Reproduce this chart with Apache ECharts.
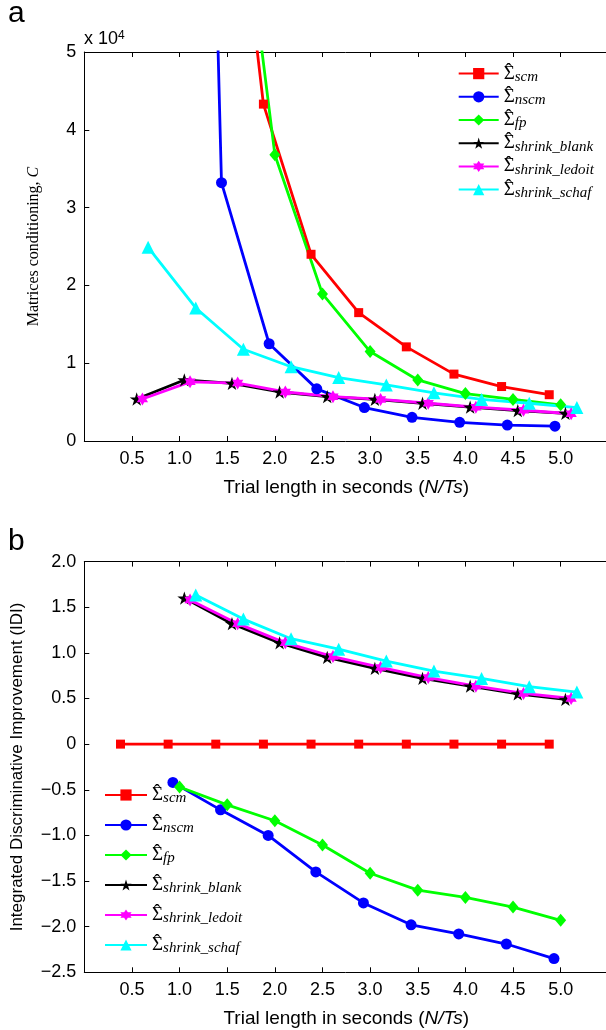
<!DOCTYPE html>
<html><head><meta charset="utf-8">
<script src="https://cdn.jsdelivr.net/npm/echarts@6/dist/echarts.min.js"></script>
<style>html,body{margin:0;padding:0;background:#fff}#c{width:606px;height:1030px}</style>
</head><body><div id="c"></div>
<script>
// ---------- DATA ----------
const seriesKeys = ['scm','nscm','fp','shrink_blank','shrink_ledoit','shrink_schaf'];
const xAxisTitle = 'Trial length in seconds ';
const xAxisTitleItalic = 'N/Ts';
const yTitleA = 'Matrices conditioning, ';
const yTitleB = 'Integrated Discriminative Improvement (IDI)';

// Panel a: matrices conditioning (raw values)
const aScmX    = [1.38,1.88,2.38,2.88,3.38,3.88,4.38,4.88];
const aScmY    = [96000,43300,24000,16500,12100,8600,7000,5950];
const aNscmX   = [0.94,1.44,1.94,2.44,2.94,3.44,3.94,4.44,4.94];
const aNscmY   = [270000,33200,12500,6700,4300,3050,2400,2050,1900];
const aFpX     = [1.5,2.0,2.5,3.0,3.5,4.0,4.5,5.0];
const aFpY     = [86000,36800,18900,11500,7850,6100,5350,4650];
const aBlankX  = [0.55,1.05,1.55,2.05,2.55,3.05,3.55,4.05,4.55,5.05];
const aBlankY  = [5400,7850,7400,6300,5700,5350,4850,4350,3900,3550];
const aLedoitX = [0.61,1.11,1.61,2.11,2.61,3.11,3.61,4.11,4.61,5.11];
const aLedoitY = [5400,7600,7450,6300,5700,5350,4850,4350,3950,3500];
const aSchafX  = [0.67,1.17,1.67,2.17,2.67,3.17,3.67,4.17,4.67,5.17];
const aSchafY  = [24900,17100,11800,9550,8150,7200,6200,5350,4850,4300];

// Panel b: IDI
const bScmX    = [0.38,0.88,1.38,1.88,2.38,2.88,3.38,3.88,4.38,4.88];
const bScmY    = [0,0,0,0,0,0,0,0,0,0];
const bNscmX   = [0.93,1.43,1.93,2.43,2.93,3.43,3.93,4.43,4.93];
const bNscmY   = [-0.42,-0.72,-1.0,-1.40,-1.74,-1.98,-2.08,-2.19,-2.35];
const bFpX     = [1.0,1.5,2.0,2.5,3.0,3.5,4.0,4.5,5.0];
const bFpY     = [-0.47,-0.665,-0.84,-1.105,-1.415,-1.60,-1.68,-1.785,-1.93];
const bBlankX  = [1.05,1.55,2.05,2.55,3.05,3.55,4.05,4.55,5.05];
const bBlankY  = [1.60,1.32,1.11,0.95,0.83,0.72,0.635,0.55,0.49];
const bLedoitX = [1.11,1.61,2.11,2.61,3.11,3.61,4.11,4.61,5.11];
const bLedoitY = [1.58,1.32,1.11,0.96,0.84,0.73,0.635,0.555,0.50];
const bSchafX  = [1.17,1.67,2.17,2.67,3.17,3.67,4.17,4.67,5.17];
const bSchafY  = [1.635,1.37,1.155,1.04,0.91,0.80,0.72,0.63,0.57];

// ---------- STYLE ----------
const STAR5 = 'path://M100,0 L122.45,69.1 L195.11,69.1 L136.3,111.8 L158.78,180.9 L100,138.2 L41.22,180.9 L63.7,111.8 L4.89,69.1 L77.55,69.1 Z';
const STAR6 = 'path://M100,0 L128.87,50 L186.6,50 L157.7,100 L186.6,150 L128.87,150 L100,200 L71.13,150 L13.4,150 L42.3,100 L13.4,50 L71.13,50 Z';
const styles = {
  scm:           {color:'#ff0000', symbol:'rect',     size:9},
  nscm:          {color:'#0000ff', symbol:'circle',   size:11},
  fp:            {color:'#00ff00', symbol:'diamond',  size:[11,13]},
  shrink_blank:  {color:'#000000', symbol:STAR5,      size:14},
  shrink_ledoit: {color:'#ff00ff', symbol:STAR6,      size:13},
  shrink_schaf:  {color:'#00ffff', symbol:'triangle', size:13}
};
const SANS = 'Liberation Sans';
const SERIF = 'Liberation Serif';

function mk(panel, key, xs, ys, gi) {
  const st = styles[key];
  return {
    name: panel + '_' + key, type: 'line', xAxisIndex: gi*2, yAxisIndex: gi,
    data: xs.map((x,i) => [x, ys[i]]),
    symbol: st.symbol, symbolSize: st.size, symbolKeepAspect: true, showSymbol: true,
    lineStyle: {color: st.color, width: 2.8}, itemStyle: {color: st.color, borderWidth: 0},
    clip: true, animation: false, emphasis: {disabled: true}
  };
}

function xAxes(gi) {
  const base = {
    gridIndex: gi, type: 'value', min: 0, max: 5.5, interval: 0.5,
    axisLine: {show: true, onZero: false, lineStyle: {color: '#000', width: 1}},
    axisTick: {show: true, inside: true, length: 5, lineStyle: {color: '#000', width: 1}},
    splitLine: {show: false}
  };
  return [
    Object.assign({}, base, {
      position: 'bottom',
      axisLabel: {show: true, color: '#000', fontSize: 18, fontFamily: SANS, margin: 9,
        showMinLabel: true, showMaxLabel: true,
        formatter: v => (v <= 0.01 || v >= 5.45) ? '' : v.toFixed(1)},
      name: xAxisTitle + '{i|(}{j|' + xAxisTitleItalic + '}{i|)}', nameLocation: 'middle', nameGap: 37,
      nameTextStyle: {color: '#000', fontSize: 19, fontFamily: SANS,
        rich: {i: {fontSize: 19, fontFamily: SANS, color: '#000'},
               j: {fontSize: 19, fontFamily: SANS, fontStyle: 'italic', color: '#000'}}}
    }),
    Object.assign({}, base, {position: 'top', axisLabel: {show: false}})
  ];
}

// legend label: zero-width hat drawn over Sigma, then italic subscript
const subRich = {
  h:   {fontFamily: SERIF, fontSize: 20, lineHeight: 12, verticalAlign: 'top', width: 0, color: '#000'},
  s:   {fontFamily: SERIF, fontSize: 19, lineHeight: 22, color: '#000'},
  sub: {fontFamily: SERIF, fontStyle: 'italic', fontSize: 15, lineHeight: 12, verticalAlign: 'bottom', color: '#000'}
};
const legendFmt = name => '{h|\u200A\u02C6}{s|\u03A3}{sub|' + name.slice(2) + '}';

const option = {
  animation: false,
  backgroundColor: '#fff',
  grid: [
    {left: 84.3, right: -2.3, top: 52, bottom: 589, outerBoundsMode: 'none'},
    {left: 84.3, right: -2.3, top: 561.6, bottom: 57.7, outerBoundsMode: 'none'}
  ],
  xAxis: [...xAxes(0), ...xAxes(1)],
  yAxis: [
    {gridIndex: 0, type: 'value', min: 0, max: 50000, interval: 10000,
      axisLine: {show: true, lineStyle: {color: '#000', width: 1}},
      axisTick: {show: true, inside: true, length: 5, lineStyle: {color: '#000'}},
      splitLine: {show: false},
      axisLabel: {color: '#000', fontSize: 18, fontFamily: SANS, margin: 8, formatter: v => String(Math.round(v/10000))},
      name: yTitleA + '{c|C}', nameLocation: 'middle', nameGap: 43,
      nameTextStyle: {color: '#000', fontSize: 16, fontFamily: SERIF,
        rich: {c: {fontSize: 16, fontFamily: SERIF, fontStyle: 'italic', color: '#000'}}}
    },
    {gridIndex: 1, type: 'value', min: -2.5, max: 2.0, interval: 0.5,
      axisLine: {show: true, onZero: false, lineStyle: {color: '#000', width: 1}},
      axisTick: {show: true, inside: true, length: 5, lineStyle: {color: '#000'}},
      splitLine: {show: false},
      axisLabel: {color: '#000', fontSize: 18, fontFamily: SANS, margin: 8,
        formatter: v => Math.abs(v) < 1e-9 ? '0' : v.toFixed(1).replace('-', '\u2212')},
      name: yTitleB, nameLocation: 'middle', nameGap: 58,
      nameTextStyle: {color: '#000', fontSize: 17, fontFamily: SANS}
    }
  ],
  legend: [
    {left: 452.7, top: 57.6, orient: 'vertical', itemWidth: 40, itemHeight: 14, itemGap: 1.2,
      data: seriesKeys.map(k => 'a_' + k), formatter: legendFmt,
      textStyle: {rich: subRich}, selectedMode: false},
    {left: 99, top: 779, orient: 'vertical', itemWidth: 42, itemHeight: 14, itemGap: 8.0,
      data: seriesKeys.map(k => 'b_' + k), formatter: legendFmt,
      textStyle: {rich: subRich}, selectedMode: false}
  ],
  graphic: [
    {type: 'text', left: 8, top: -1, style: {text: 'a', font: '30px "Liberation Sans"', fill: '#000'}},
    {type: 'text', left: 8, top: 527, style: {text: 'b', font: '30px "Liberation Sans"', fill: '#000'}},
    {type: 'text', left: 84, top: 30, style: {text: 'x 10{sup|4}', fontSize: 18, fontFamily: SANS, fill: '#000',
      rich: {sup: {fontSize: 12, fontFamily: SANS, verticalAlign: 'top', lineHeight: 12, fill: '#000'}}}}
  ],
  series: [
    mk('a','scm',aScmX,aScmY,0), mk('a','nscm',aNscmX,aNscmY,0), mk('a','fp',aFpX,aFpY,0),
    mk('a','shrink_blank',aBlankX,aBlankY,0), mk('a','shrink_ledoit',aLedoitX,aLedoitY,0), mk('a','shrink_schaf',aSchafX,aSchafY,0),
    mk('b','scm',bScmX,bScmY,1), mk('b','nscm',bNscmX,bNscmY,1), mk('b','fp',bFpX,bFpY,1),
    mk('b','shrink_blank',bBlankX,bBlankY,1), mk('b','shrink_ledoit',bLedoitX,bLedoitY,1), mk('b','shrink_schaf',bSchafX,bSchafY,1)
  ]
};
const chart = echarts.init(document.getElementById('c'), null, {renderer: 'canvas'});
chart.setOption(option);
</script></body></html>
